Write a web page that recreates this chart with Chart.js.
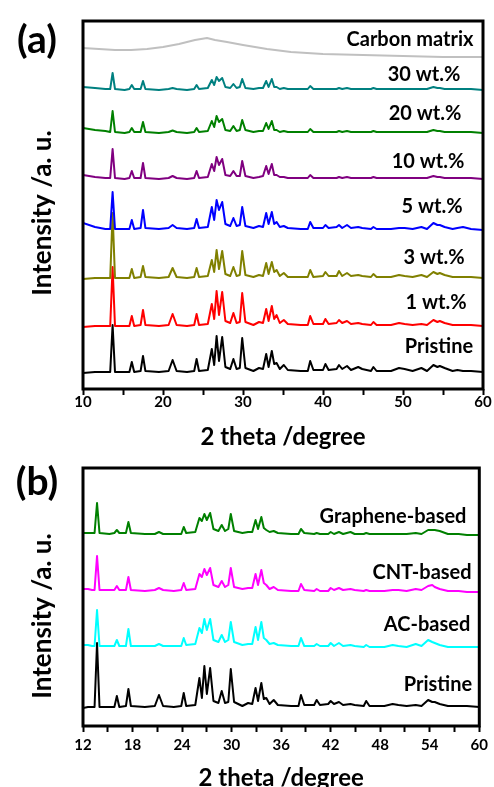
<!DOCTYPE html>
<html>
<head>
<meta charset="utf-8">
<script src="https://cdn.jsdelivr.net/npm/chart.js@4.4.1/dist/chart.umd.min.js"></script>
<style>
  html, body { margin: 0; padding: 0; background: #fff; overflow: hidden; }
  #wrap { position: relative; width: 494px; height: 787px; }
  canvas { position: absolute; left: 0; }
  #chart-a { top: 0; }
  #chart-b { top: 450px; }
</style>
</head>
<body>
<div id="wrap">
  <canvas id="chart-a" width="494" height="452"></canvas>
  <canvas id="chart-b" width="494" height="345"></canvas>
</div>
<script>
'use strict';

// ---- panel (a) ----
const twoThetaA = [
  10, 11.5, 12.8, 13.4, 13.7, 14.0, 15.2, 15.8, 16.1, 16.4,
  17.2, 17.5, 17.8, 19.5, 20.7, 21.2, 21.7, 23.0, 23.9, 24.2,
  24.5, 25.6, 26.1, 26.4, 26.7, 27.0, 27.4, 27.8, 28.4, 28.8,
  29.2, 29.6, 29.9, 30.3, 31.3, 32.0, 32.5, 32.9, 33.2, 33.6,
  33.9, 34.2, 34.6, 35.1, 35.6, 37.2, 38.1, 38.4, 38.8, 40.0,
  40.3, 40.7, 41.7, 42.0, 42.4, 43.0, 43.5, 44.4, 44.9, 46.0,
  46.3, 46.7, 48.5, 49.5, 50.2, 51.2, 52.3, 53.0, 53.8, 54.3,
  54.6, 55.2, 56.2, 56.8, 57.5, 58.5, 60
];
const pristineA = [
  0, 1, 1, 1, 48, 1, 1, 1, 11, 1,
  2, 17, 2, 1, 2, 13, 2, 1, 2, 14,
  2, 3, 24, 8, 37, 12, 36, 6, 4, 14,
  4, 5, 35, 5, 2, 5, 4, 19, 6, 22,
  9, 10, 4, 8, 3, 2, 2, 12, 3, 3,
  9, 3, 4, 8, 4, 7, 3, 6, 4, 2,
  6, 2, 2, 5, 4, 2, 5, 2, 8, 6,
  7, 5, 2, 3, 2, 2, 1
];
const wt1 = [
  0, 1, 1, 1, 60, 1, 1, 1, 11, 1,
  2, 17, 2, 1, 2, 13, 2, 1, 2, 13,
  2, 3, 23, 8, 36, 12, 35, 6, 4, 14,
  4, 5, 34, 5, 2, 5, 4, 18, 6, 21,
  8, 12, 4, 7, 3, 2, 2, 11, 3, 3,
  8, 3, 4, 7, 4, 6, 3, 4, 3, 2,
  5, 2, 2, 4, 3, 2, 3, 2, 7, 5,
  6, 4, 2, 2, 2, 2, 1
];
const wt3 = [
  0, 1, 1, 1, 66, 1, 1, 1, 10, 1,
  2, 13, 2, 1, 2, 11, 2, 1, 2, 11,
  2, 3, 19, 7, 29, 10, 28, 5, 3, 12,
  3, 4, 28, 4, 2, 4, 3, 16, 5, 17,
  7, 9, 3, 6, 2, 2, 2, 9, 2, 3,
  7, 3, 3, 8, 3, 6, 3, 4, 3, 2,
  5, 2, 2, 4, 3, 2, 4, 2, 7, 5,
  6, 4, 2, 2, 2, 2, 1
];
const wt5 = [
  7, 3, 1, 1, 38, 1, 1, 1, 10, 1,
  2, 20, 2, 1, 2, 5, 2, 1, 2, 11,
  2, 3, 23, 10, 30, 20, 28, 6, 4, 12,
  4, 5, 23, 4, 2, 4, 3, 17, 6, 18,
  6, 8, 3, 4, 2, 1, 1, 8, 2, 2,
  5, 2, 3, 5, 2, 5, 2, 3, 2, 1,
  3, 1, 1, 2, 2, 1, 3, 1, 7, 5,
  5, 3, 1, 2, 3, 1, 0
];
const wt10 = [
  4, 2, 1, 1, 30, 1, 0, 1, 8, 1,
  1, 16, 1, 0, 1, 3, 1, 0, 1, 8,
  1, 2, 15, 8, 22, 14, 20, 4, 3, 8,
  3, 3, 18, 3, 1, 2, 3, 13, 5, 15,
  4, 4, 2, 2, 1, 1, 1, 4, 1, 1,
  1, 1, 1, 2, 1, 2, 1, 1, 1, 1,
  2, 1, 1, 1, 1, 1, 1, 1, 3, 2,
  2, 1, 1, 1, 1, 1, 0
];
const wt20 = [
  5, 3, 2, 1, 22, 1, 0, 1, 5, 1,
  1, 11, 1, 0, 1, 2.5, 1, 0, 1, 5,
  1, 2, 12, 6, 17, 11, 14, 3, 2, 7,
  2, 3, 13, 3, 1, 2, 2, 10, 4, 12,
  3, 3, 1, 2, 1, 1, 1, 4, 1, 1,
  1, 1, 1, 2, 1, 2, 1, 1, 1, 1,
  2, 1, 1, 1, 1, 1, 1, 1, 3, 2,
  2, 1, 1, 1, 1, 1, 0
];
const wt30 = [
  3, 2, 1, 1, 17, 1, 0, 1, 5, 1,
  1, 9, 1, 0, 1, 2, 1, 0, 1, 5,
  1, 2, 10, 5, 13, 9, 12, 3, 2, 6,
  2, 3, 11, 2, 1, 2, 2, 9, 3, 11,
  3, 3, 1, 2, 1, 1, 1, 4, 1, 1,
  1, 1, 1, 2, 1, 2, 1, 1, 1, 1,
  2, 1, 1, 1, 1, 1, 1, 1, 3, 2,
  2, 1, 1, 1, 1, 1, 0
];
// amorphous carbon: broad hump only
const carbonTheta = [10, 12, 14, 16, 18, 20, 22, 24, 25.5, 26.5, 28, 30, 33, 36, 40, 45, 50, 55, 60];
const carbonI = [11, 10, 9, 9, 10, 12, 15, 19, 21, 19, 17, 14, 10, 7, 5, 4, 3, 2, 2];

const namesA = ['Carbon matrix', '30 wt.%', '20 wt.%', '10 wt.%', '5 wt.%', '3 wt.%', '1 wt.%', 'Pristine'];
const colorsA = ['#c0c0c0', '#008080', '#008000', '#800080', '#0000ff', '#808000', '#ff0000', '#000000'];
const offsetsA = [330, 299, 256, 210, 159, 110, 62, 16];

// ---- panel (b) ----
const twoThetaB = [
  12, 12.6, 13.1, 13.4, 13.7, 14.0, 15.2, 15.8, 16.1, 16.4,
  17.2, 17.5, 17.8, 19.5, 20.7, 21.2, 21.7, 23.0, 23.9, 24.2,
  24.5, 25.6, 26.1, 26.4, 26.7, 27.0, 27.4, 27.8, 28.4, 28.8,
  29.2, 29.6, 29.9, 30.3, 31.3, 32.0, 32.5, 32.9, 33.2, 33.6,
  33.9, 34.2, 34.6, 35.1, 35.6, 37.2, 38.1, 38.4, 38.8, 40.0,
  40.3, 40.7, 41.7, 42.0, 42.4, 43.0, 43.5, 44.4, 44.9, 46.0,
  46.3, 46.7, 48.5, 49.5, 50.2, 51.2, 52.3, 53.0, 53.8, 54.3,
  54.6, 55.2, 56.2, 56.8, 57.5, 58.5, 60
];
const graphene = [
  2, 2, 2, 2, 32, 2, 1, 2, 5, 2,
  2, 13, 2, 1, 1, 3, 1, 1, 1, 8,
  2, 3, 17, 14, 21, 15, 22, 6, 4, 10,
  4, 6, 21, 4, 2, 3, 3, 15, 6, 18,
  7, 5, 3, 4, 2, 1, 1, 6, 2, 1,
  2, 1, 1, 3, 1, 3, 1, 3, 1, 1,
  2, 1, 1, 1, 1, 1, 2, 1, 5, 5,
  5, 4, 1, 1, 1, 0, 0
];
const cnt = [
  3, 3, 2, 2, 36, 2, 2, 2, 6, 2,
  2, 15, 2, 1, 2, 4, 2, 1, 2, 9,
  2, 3, 18, 15, 23, 17, 24, 7, 5, 11,
  5, 7, 24, 5, 3, 4, 4, 18, 7, 22,
  9, 7, 3, 5, 2, 1, 1, 8, 2, 1,
  3, 1, 1, 4, 2, 4, 2, 3, 2, 1,
  2, 1, 1, 2, 2, 1, 3, 2, 6, 7,
  5, 3, 1, 1, 1, 0, 0
];
const ac = [
  3, 3, 2, 2, 38, 2, 2, 2, 8, 2,
  2, 19, 2, 2, 2, 4, 2, 2, 2, 10,
  3, 4, 20, 15, 29, 18, 29, 8, 6, 13,
  6, 8, 26, 6, 3, 4, 4, 21, 8, 26,
  10, 8, 4, 5, 3, 2, 2, 10, 2, 2,
  4, 2, 2, 5, 2, 5, 2, 3, 2, 1,
  3, 1, 1, 3, 2, 1, 4, 2, 8, 6,
  5, 3, 1, 1, 1, 1, 1
];
const pristineB = [
  0, 1, 1, 1, 65, 1, 1, 1, 12, 1,
  2, 19, 2, 1, 2, 13, 2, 1, 2, 15,
  2, 3, 30, 10, 42, 14, 40, 7, 5, 17,
  5, 6, 39, 6, 2, 5, 4, 20, 7, 25,
  9, 10, 4, 8, 3, 2, 2, 13, 3, 3,
  8, 3, 4, 7, 4, 6, 3, 4, 3, 2,
  7, 2, 2, 4, 3, 2, 3, 2, 8, 6,
  6, 4, 2, 2, 2, 2, 1
];
const namesB = ['Graphene-based', 'CNT-based', 'AC-based', 'Pristine'];
const colorsB = ['#008000', '#ff00ff', '#00ffff', '#000000'];
const offsetsB = [191, 134, 78, 18];

const pts = (xs, ys, off) => xs.map((x, i) => ({ x, y: ys[i] + off }));

// frame + in-plot labels + rotated y title
const decorPlugin = {
  id: 'decor',
  afterDatasetsDraw(chart, args, o) {
    const { ctx, chartArea: a } = chart;
    ctx.save();
    ctx.strokeStyle = '#000';
    ctx.lineWidth = 3;
    ctx.strokeRect(a.left, a.top, a.right - a.left, a.bottom - a.top);
    ctx.fillStyle = '#000';
    ctx.textAlign = 'center';
    ctx.textBaseline = 'middle';
    ctx.font = 'bold 20px Lato';
    o.names.forEach((t, i) => ctx.fillText(t, o.pos[i][0], o.pos[i][1]));
    ctx.font = 'bold 39px Lato';
    ctx.fillText(o.panel, 37, o.panelY);
    ctx.translate(43, o.titleY);
    ctx.rotate(-Math.PI / 2);
    ctx.font = 'bold 26px Lato';
    ctx.fillText('Intensity /a. u.', 0, 0);
    ctx.restore();
  }
};

function xrdChart(id, cfg) {
  return new Chart(document.getElementById(id), {
    type: 'line',
    data: { datasets: cfg.datasets },
    plugins: [decorPlugin],
    options: {
      responsive: false,
      animation: false,
      layout: { padding: { top: cfg.top, right: 11, bottom: 0, left: 83 } },
      elements: { point: { radius: 0 }, line: { borderWidth: 2, tension: 0, borderJoinStyle: 'round' } },
      plugins: { legend: { display: false }, tooltip: { enabled: false }, decor: cfg.decor },
      scales: {
        x: {
          type: 'linear', min: cfg.xmin, max: 60,
          afterFit: (s) => { s.height = cfg.xh; },
          border: { display: false },
          grid: { drawOnChartArea: false, drawTicks: true, tickLength: 6, tickColor: '#000', tickWidth: 2 },
          ticks: {
            stepSize: cfg.step, autoSkip: false, maxRotation: 0, padding: cfg.tickPad, color: '#000',
            font: { family: 'Lato', size: 15, weight: 'bold', lineHeight: 1 },
            callback: (v) => (v % (cfg.step * 2) === 0 ? v : '')
          },
          title: {
            display: true, text: '2 theta /degree', color: '#000',
            font: { family: 'Lato', size: 24, weight: 'bold' },
            padding: { top: 0, bottom: cfg.titlePad }
          }
        },
        y: { display: false, min: 0, max: cfg.ymax }
      }
    }
  });
}

const dsA = [{ data: pts(carbonTheta, carbonI, offsetsA[0]), borderColor: colorsA[0] }]
  .concat([wt30, wt20, wt10, wt5, wt3, wt1, pristineA].map((ys, i) => ({
    data: pts(twoThetaA, ys, offsetsA[i + 1]), borderColor: colorsA[i + 1]
  })));

xrdChart('chart-a', {
  datasets: dsA, top: 21, xmin: 10, step: 5, xh: 63, ymax: 368, tickPad: 0, titlePad: 0,
  decor: {
    names: namesA,
    pos: [[410, 40], [424, 75], [425, 114], [428, 162], [432, 207], [434, 258], [436, 303], [439, 347]],
    panel: '(a)', panelY: 40, titleY: 213
  }
});

const dsB = [graphene, cnt, ac, pristineB].map((ys, i) => ({
  data: pts(twoThetaB, ys, offsetsB[i]), borderColor: colorsB[i]
}));

xrdChart('chart-b', {
  datasets: dsB, top: 18, xmin: 12, step: 3, xh: 69, ymax: 258, tickPad: 6, titlePad: 2.6,
  decor: {
    names: namesB,
    pos: [[393, 67], [422, 123], [427, 175], [438, 235]],
    panel: '(b)', panelY: 32, titleY: 166
  }
});
</script>
</body>
</html>
